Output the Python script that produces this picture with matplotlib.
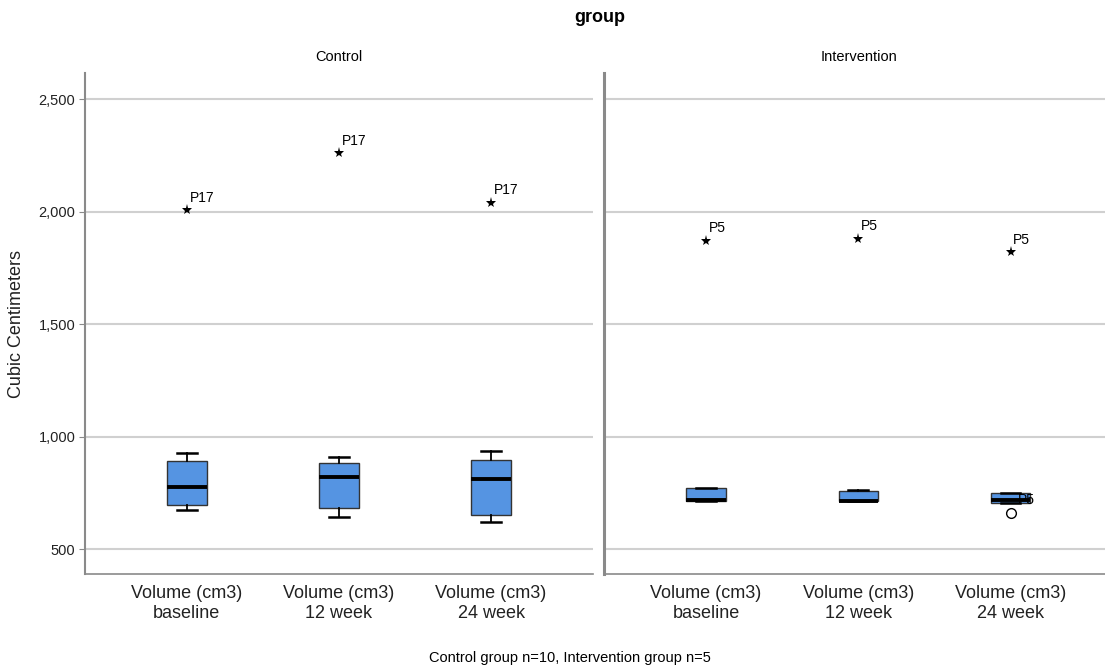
import numpy as np
import matplotlib
matplotlib.use('Agg')
import matplotlib.pyplot as plt

plt.rcParams['font.family'] = ['Liberation Sans', 'DejaVu Sans']

time_labels = ['Volume (cm3)\nbaseline', 'Volume (cm3)\n12 week', 'Volume (cm3)\n24 week']
panels = ['Control', 'Intervention']

# box statistics (cm3)
ctrl_whislo = [673, 644, 620]
ctrl_q1 = [696, 684, 651]
ctrl_med = [777, 820, 812]
ctrl_q3 = [891, 881, 896]
ctrl_whishi = [925, 909, 937]
ctrl_extreme = [2005, 2260, 2038]
ctrl_extreme_lab = ['P17', 'P17', 'P17']

int_whislo = [713, 713, 705]
int_q1 = [713, 713, 705]
int_med = [717, 715, 716]
int_q3 = [772, 758, 748]
int_whishi = [772, 762, 750]
int_extreme = [1869, 1878, 1820]
int_extreme_lab = ['P5', 'P5', 'P5']
int_outlier = [None, None, 660]

box_color = '#5594e2'
grid_color = '#d0d0d0'
spine_color = '#8a8a8a'

W, H = 1105, 670
fig = plt.figure(figsize=(W / 100, H / 100), dpi=100)

def px(x0, y0, w, h):
    return [x0 / W, 1 - (y0 + h) / H, w / W, h / H]

ax1 = fig.add_axes(px(85, 73, 508, 501))
ax2 = fig.add_axes(px(604, 73, 501, 501))

def draw(ax, lo, q1, med, q3, hi, ext, labs, outl=None):
    stats = []
    for i in range(3):
        stats.append(dict(whislo=lo[i], q1=q1[i], med=med[i], q3=q3[i], whishi=hi[i], fliers=[]))
    ax.bxp(stats, positions=[1, 2, 3], widths=0.26, patch_artist=True, showfliers=False,
           boxprops=dict(facecolor=box_color, edgecolor='#333333', linewidth=1.0),
           medianprops=dict(color='black', linewidth=2.8),
           whiskerprops=dict(color='black', linewidth=1.3),
           capprops=dict(color='black', linewidth=1.8), capwidths=0.13, zorder=3)
    for i in range(3):
        ax.plot(i + 1, ext[i], marker='*', color='black', markersize=8, markeredgewidth=0,
                linestyle='none', zorder=4)
        ax.annotate(labs[i], (i + 1, ext[i]), xytext=(2, 4), textcoords='offset points',
                    fontsize=10, ha='left', va='bottom')
    if outl is not None:
        for i, v in enumerate(outl):
            if v is not None:
                ax.plot(i + 1, v, marker='o', markerfacecolor='white', markeredgecolor='black',
                        markersize=7, linestyle='none', zorder=4)
                ax.text(i + 1.05, 718, 'P5', fontsize=10, ha='left', va='center', zorder=5)
    ax.set_xlim(0.33, 3.67)
    ax.set_ylim(389, 2616)
    ax.set_yticks([500, 1000, 1500, 2000, 2500])
    ax.yaxis.grid(True, color=grid_color, linewidth=1.5)
    ax.set_axisbelow(True)
    ax.set_xticks([1, 2, 3])
    ax.set_xticklabels(time_labels, fontsize=13, color='#222222', linespacing=1.2)
    ax.tick_params(axis='x', length=0, pad=8)
    ax.spines['top'].set_visible(False)
    ax.spines['right'].set_visible(False)
    ax.spines['left'].set_color(spine_color)
    ax.spines['left'].set_linewidth(1.5)
    ax.spines['bottom'].set_color(spine_color)
    ax.spines['bottom'].set_linewidth(1.2)

draw(ax1, ctrl_whislo, ctrl_q1, ctrl_med, ctrl_q3, ctrl_whishi, ctrl_extreme, ctrl_extreme_lab)
draw(ax2, int_whislo, int_q1, int_med, int_q3, int_whishi, int_extreme, int_extreme_lab, int_outlier)
ax2.set_xlim(0.33, 3.62)

ax1.set_yticklabels(['500', '1,000', '1,500', '2,000', '2,500'], fontsize=10.5, color='#222222')
ax1.tick_params(axis='y', length=4, color=spine_color, pad=3)
ax2.tick_params(axis='y', length=0, labelleft=False)
ax2.spines['left'].set_linewidth(2.2)

ax1.set_ylabel('Cubic Centimeters', fontsize=13, color='#222222', labelpad=10)

fig.text(600 / W, 1 - 17 / H, 'group', fontsize=13, fontweight='bold', ha='center', va='center')
fig.text(339 / W, 1 - 57 / H, panels[0], fontsize=10.5, ha='center', va='center')
fig.text(859 / W, 1 - 57 / H, panels[1], fontsize=10.5, ha='center', va='center')
fig.text(570 / W, 1 - 658 / H, 'Control group n=10, Intervention group n=5', fontsize=10.5,
         ha='center', va='center')

fig.savefig('out.png', dpi=100)
